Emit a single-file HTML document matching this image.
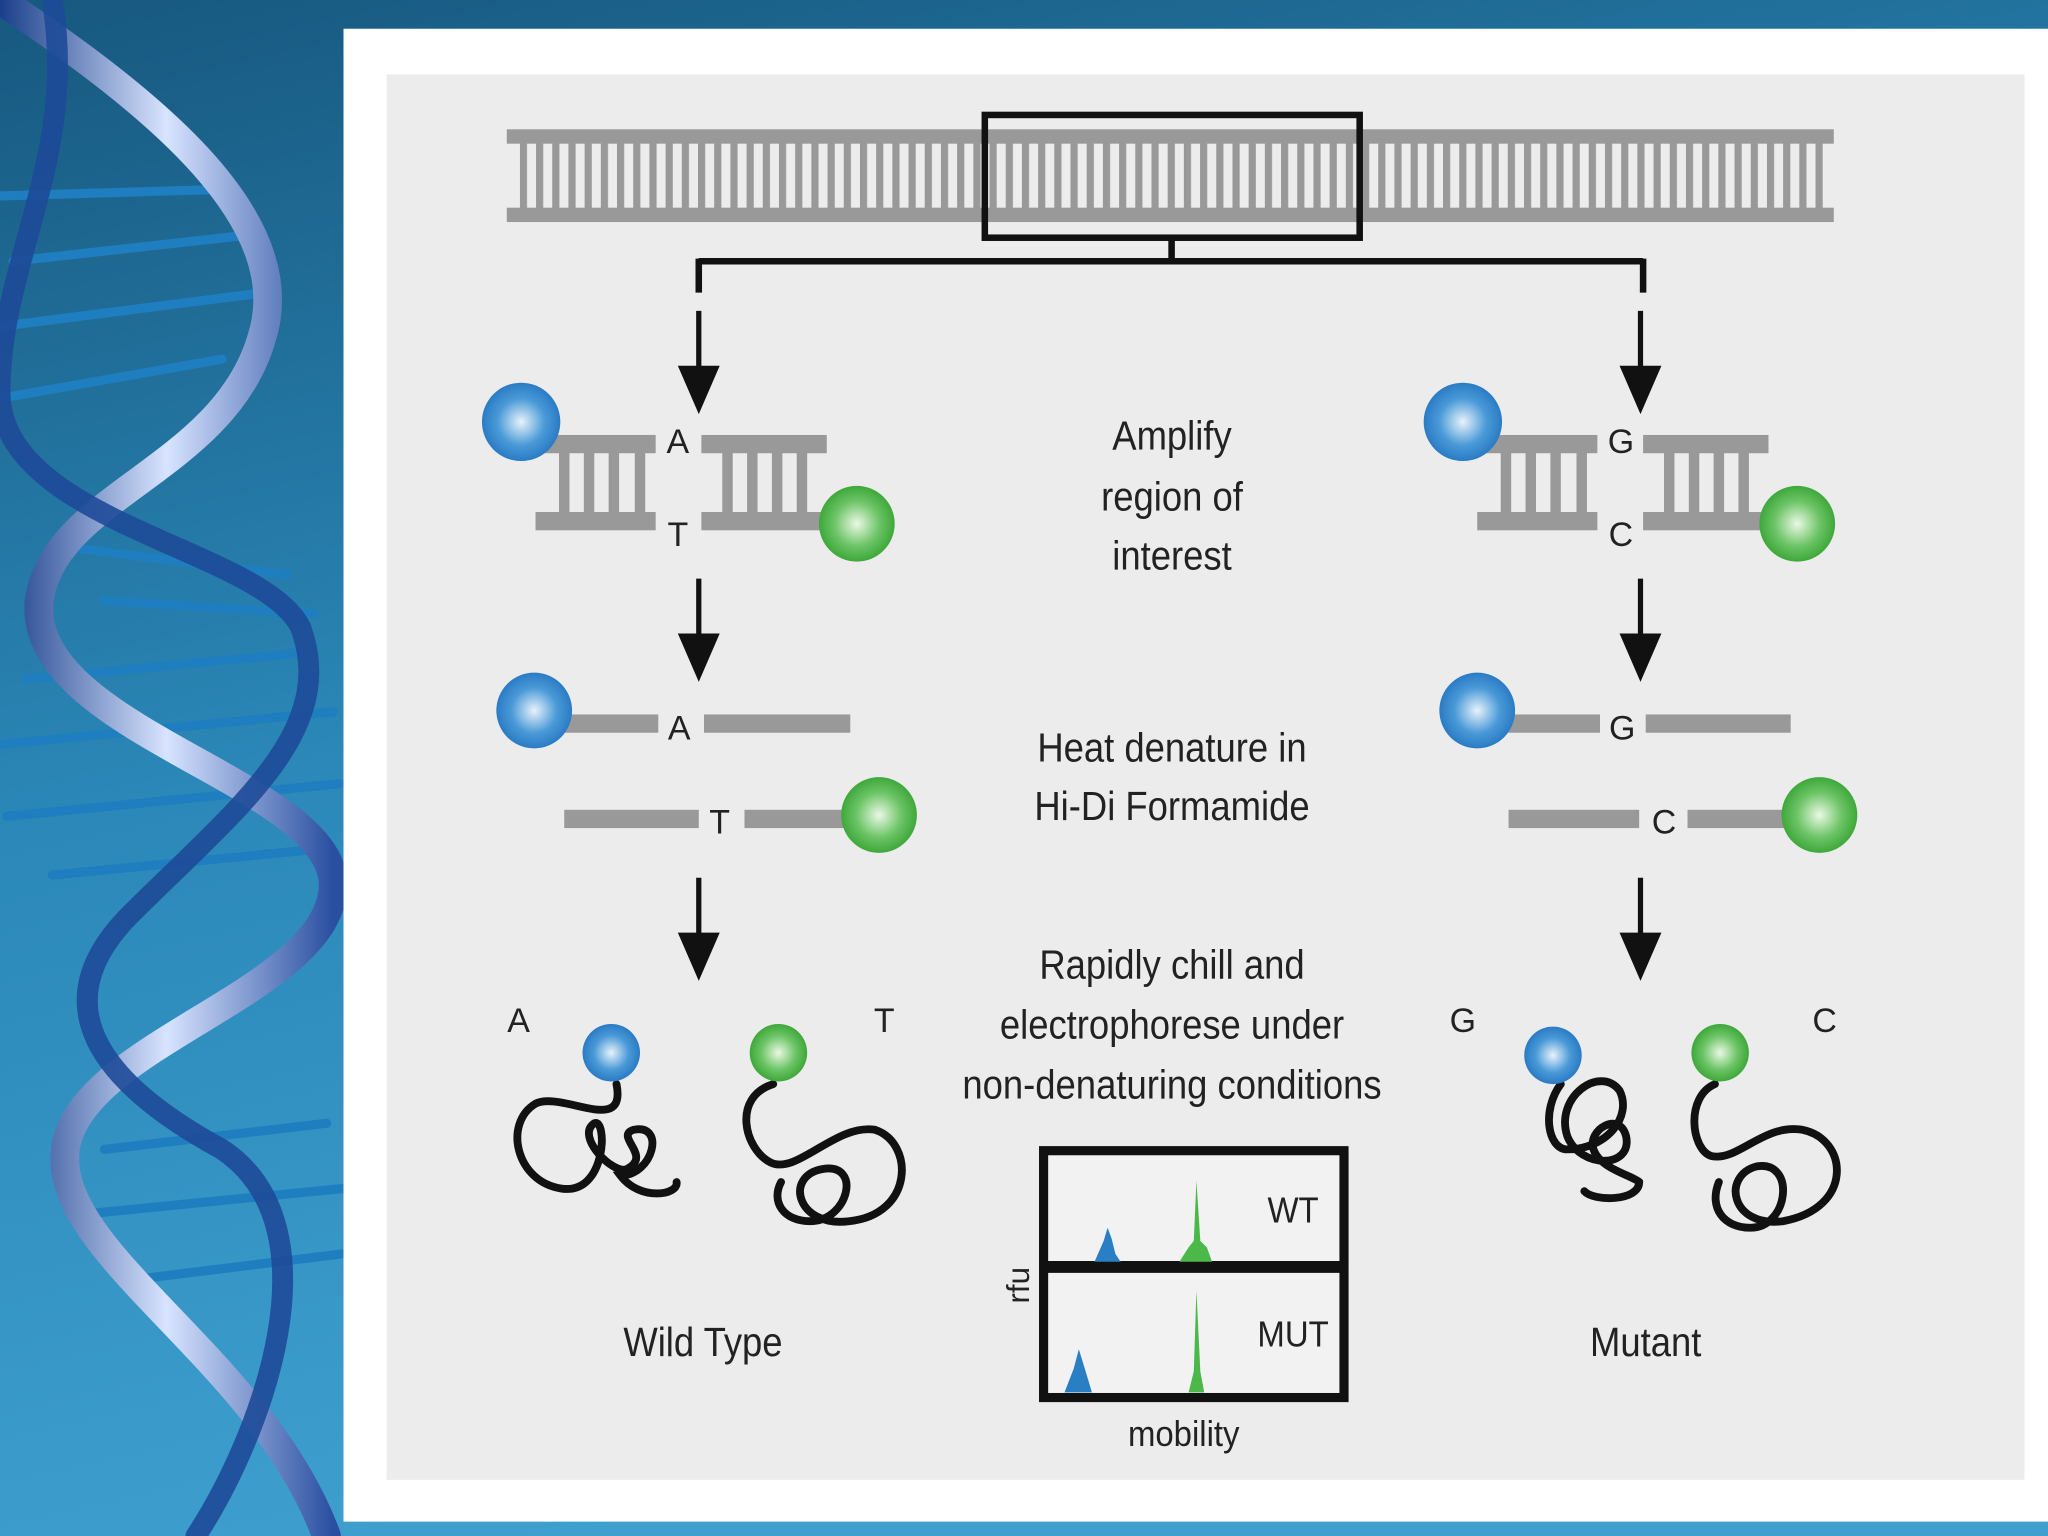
<!DOCTYPE html>
<html><head><meta charset="utf-8"><style>
html,body{margin:0;padding:0;width:2048px;height:1536px;overflow:hidden;background:#2a7fb0}
svg{display:block}
text{font-family:"Liberation Sans",sans-serif;fill:#222}
</style></head><body>
<svg width="2048" height="1536" viewBox="0 0 1568 1176" xmlns="http://www.w3.org/2000/svg">
<defs>
<linearGradient id="bg" x1="0" y1="0" x2="0.3" y2="1">
<stop offset="0" stop-color="#17587f"/><stop offset="0.5" stop-color="#2b88b8"/><stop offset="1" stop-color="#3fa0d0"/></linearGradient>
<radialGradient id="bl" cx="0.5" cy="0.5" r="0.5"><stop offset="0" stop-color="#e8f2fb"/><stop offset="0.6" stop-color="#4a9ad8"/><stop offset="1" stop-color="#2a7bc4"/></radialGradient>
<radialGradient id="gr" cx="0.5" cy="0.5" r="0.5"><stop offset="0" stop-color="#eaf8e4"/><stop offset="0.6" stop-color="#6cc466"/><stop offset="1" stop-color="#3ea83a"/></radialGradient>
<linearGradient id="rib" x1="0" y1="0" x2="1" y2="0"><stop offset="0" stop-color="#1a3f8a"/><stop offset="0.5" stop-color="#d8e4ff"/><stop offset="1" stop-color="#2a4fa0"/></linearGradient>
<pattern id="rp" x="398" y="0" width="12.4" height="200" patternUnits="userSpaceOnUse">
<rect x="0" y="0" width="5.5" height="200" fill="#999"/></pattern>
</defs>
<rect width="1568" height="1176" fill="url(#bg)"/>
<!-- helix -->
<g fill="none" stroke-linecap="round">
<g stroke="#1f7ec0" stroke-width="7">
<line x1="0" y1="150" x2="170" y2="145"/><line x1="10" y1="200" x2="190" y2="180"/><line x1="0" y1="250" x2="195" y2="225"/><line x1="0" y1="305" x2="170" y2="275"/>
<line x1="20" y1="520" x2="230" y2="500"/><line x1="0" y1="570" x2="255" y2="545"/><line x1="5" y1="625" x2="260" y2="600"/><line x1="40" y1="670" x2="245" y2="650"/>
<line x1="80" y1="880" x2="250" y2="860"/><line x1="60" y1="930" x2="262" y2="910"/><line x1="100" y1="980" x2="262" y2="960"/>
<line x1="60" y1="420" x2="220" y2="440"/><line x1="80" y1="460" x2="240" y2="470"/>
</g>
<path d="M0,0 C120,80 230,170 200,260 C170,360 40,380 30,460 C20,560 260,600 255,680 C250,760 60,800 50,880 C40,960 200,1040 250,1176" stroke="url(#rib)" stroke-width="22"/>
<path d="M40,0 C60,120 0,200 0,300 C0,400 200,420 230,480 C260,560 180,620 100,700 C40,760 60,820 170,880 C260,940 200,1100 150,1176" stroke="#1e4a98" stroke-width="16" opacity="0.9"/>
</g>
<!-- panels -->
<rect x="263" y="22" width="1305" height="1143" fill="#fff"/>
<rect x="296" y="57" width="1254" height="1076" fill="#ececec"/>
<!-- top DNA -->
<rect x="388" y="99" width="1016" height="11" fill="#999"/>
<rect x="388" y="159" width="1016" height="11" fill="#999"/>
<rect x="398" y="108" width="998" height="54" fill="url(#rp)"/>
<rect x="754" y="88" width="287" height="94" fill="none" stroke="#111" stroke-width="5"/>
<path d="M897,182 V200 M535,200 H1258 M535,198 V224 M1258,198 V224" stroke="#111" stroke-width="5" fill="none"/>
<!-- arrows -->
<g stroke="#111" stroke-width="4" fill="#111">
<line x1="535" y1="238" x2="535" y2="290"/><path d="M522,282 L548,282 L535,312 Z"/>
<line x1="535" y1="443" x2="535" y2="495"/><path d="M522,487 L548,487 L535,517 Z"/>
<line x1="535" y1="672" x2="535" y2="724"/><path d="M522,716 L548,716 L535,746 Z"/>
<line x1="1256" y1="238" x2="1256" y2="290"/><path d="M1243,282 L1269,282 L1256,312 Z"/>
<line x1="1256" y1="443" x2="1256" y2="495"/><path d="M1243,487 L1269,487 L1256,517 Z"/>
<line x1="1256" y1="672" x2="1256" y2="724"/><path d="M1243,716 L1269,716 L1256,746 Z"/>
</g>
<!-- left duplex -->
<g fill="#999">
<rect x="410" y="333" width="92" height="14"/><rect x="537" y="333" width="96" height="14"/>
<rect x="410" y="392" width="92" height="14"/><rect x="537" y="392" width="103" height="14"/>
<rect x="428" y="345" width="8" height="50"/><rect x="447" y="345" width="8" height="50"/><rect x="466" y="345" width="8" height="50"/><rect x="486" y="345" width="8" height="50"/>
<rect x="553" y="345" width="8" height="50"/><rect x="572" y="345" width="8" height="50"/><rect x="591" y="345" width="8" height="50"/><rect x="610" y="345" width="8" height="50"/>
<rect x="430" y="547" width="74" height="14"/><rect x="539" y="547" width="112" height="14"/>
<rect x="432" y="620" width="103" height="14"/><rect x="570" y="620" width="86" height="14"/>
</g>
<circle cx="399" cy="323" r="30" fill="url(#bl)"/>
<circle cx="656" cy="401" r="29" fill="url(#gr)"/>
<circle cx="409" cy="544" r="29" fill="url(#bl)"/>
<circle cx="673" cy="624" r="29" fill="url(#gr)"/>
<!-- right duplex -->
<g fill="#999">
<rect x="1131" y="333" width="92" height="14"/><rect x="1258" y="333" width="96" height="14"/>
<rect x="1131" y="392" width="92" height="14"/><rect x="1258" y="392" width="103" height="14"/>
<rect x="1149" y="345" width="8" height="50"/><rect x="1168" y="345" width="8" height="50"/><rect x="1187" y="345" width="8" height="50"/><rect x="1207" y="345" width="8" height="50"/>
<rect x="1274" y="345" width="8" height="50"/><rect x="1293" y="345" width="8" height="50"/><rect x="1312" y="345" width="8" height="50"/><rect x="1331" y="345" width="8" height="50"/>
<rect x="1151" y="547" width="74" height="14"/><rect x="1260" y="547" width="111" height="14"/>
<rect x="1155" y="620" width="100" height="14"/><rect x="1292" y="620" width="84" height="14"/>
</g>
<circle cx="1120" cy="323" r="30" fill="url(#bl)"/>
<circle cx="1376" cy="401" r="29" fill="url(#gr)"/>
<circle cx="1131" cy="544" r="29" fill="url(#bl)"/>
<circle cx="1393" cy="624" r="29" fill="url(#gr)"/>
<!-- letters -->
<g font-size="26" text-anchor="middle">
<text x="519" y="347">A</text><text x="519" y="418">T</text>
<text x="520" y="566">A</text><text x="551" y="638">T</text>
<text x="1241" y="347">G</text><text x="1241" y="418">C</text>
<text x="1242" y="566">G</text><text x="1274" y="638">C</text>
<text x="397" y="790">A</text><text x="677" y="790">T</text>
<text x="1120" y="790">G</text><text x="1397" y="790">C</text>
</g>
<!-- coils -->
<g fill="none" stroke="#111" stroke-width="6" stroke-linecap="round">
<path d="M472,830 C480,870 430,835 410,845 C385,860 395,905 430,910 C465,915 465,855 455,860 C440,870 470,900 480,895 C500,885 470,870 485,865 C510,860 500,900 475,900 C490,920 520,915 518,905"/>
<path d="M592,830 C560,840 570,880 590,890 C610,900 640,860 670,865 C700,875 700,930 650,935 C610,940 600,900 630,895 C660,890 650,935 620,935 C600,935 590,920 598,905"/>
<path d="M1195,830 C1180,850 1185,880 1200,880 C1230,880 1250,855 1240,835 C1225,815 1190,840 1200,870 C1210,895 1250,895 1245,870 C1240,850 1215,865 1220,880 C1225,895 1250,900 1255,905 C1255,920 1220,920 1213,912"/>
<path d="M1313,830 C1290,840 1295,880 1310,885 C1330,890 1350,860 1380,865 C1415,872 1420,925 1365,935 C1325,940 1318,900 1345,893 C1375,888 1370,940 1340,940 C1320,940 1308,925 1316,905"/>
</g>
<circle cx="468" cy="806" r="22" fill="url(#bl)"/>
<circle cx="596" cy="806" r="22" fill="url(#gr)"/>
<circle cx="1189" cy="808" r="22" fill="url(#bl)"/>
<circle cx="1317" cy="806" r="22" fill="url(#gr)"/>
<!-- center text -->
<g font-size="31" text-anchor="middle" transform="scale(0.9,1)">
<text x="997" y="344">Amplify</text>
<text x="997" y="391">region of</text>
<text x="997" y="436">interest</text>
<text x="997" y="583">Heat denature in</text>
<text x="997" y="628">Hi-Di Formamide</text>
<text x="997" y="749">Rapidly chill and</text>
<text x="997" y="795">electrophorese under</text>
<text x="997" y="841">non-denaturing conditions</text>
<text x="598" y="1038">Wild Type</text>
<text x="1400" y="1038">Mutant</text>
<text x="1007" y="1107" font-size="28">mobility</text>
</g>
<!-- plot -->
<rect x="799" y="881" width="230" height="189" fill="#f2f2f2" stroke="#111" stroke-width="7"/>
<line x1="796" y1="970" x2="1032" y2="970" stroke="#111" stroke-width="9"/>
<path d="M838,966 L845,950 L848,940 L851,948 L854,960 L858,966 Z" fill="#2a7fc4"/>
<path d="M815,1066 L822,1048 L826,1033 L830,1046 L833,1056 L836,1066 Z" fill="#2a7fc4"/>
<path d="M903,966 L910,955 L914,950 L916,904 L919,950 L924,955 L928,966 Z" fill="#4cb84a"/>
<path d="M910,1066 L914,1050 L916,988 L919,1050 L922,1066 Z" fill="#4cb84a"/>
<g transform="scale(0.9,1)" font-size="28">
<text x="1100" y="936" text-anchor="middle">WT</text>
<text x="1100" y="1031" text-anchor="middle">MUT</text>
</g>
<text x="0" y="0" font-size="24" transform="translate(788,984) rotate(-90)" text-anchor="middle">rfu</text>
</svg>
</body></html>
